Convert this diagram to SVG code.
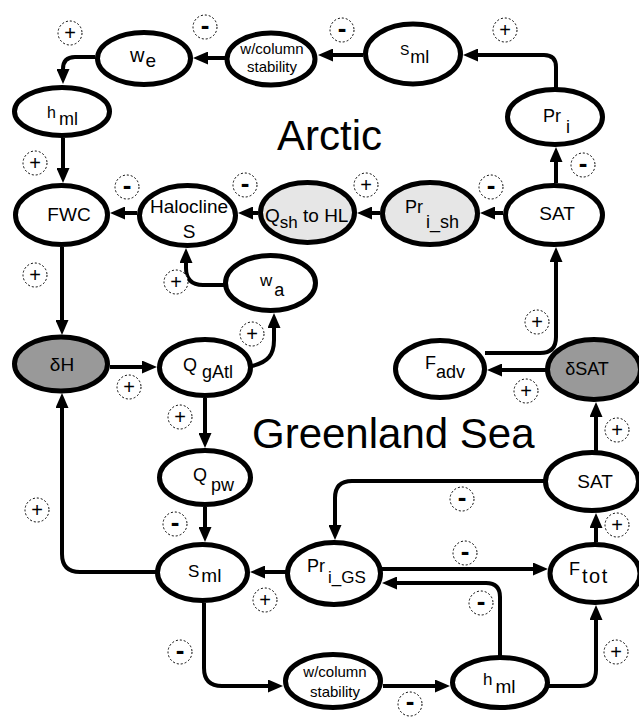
<svg xmlns="http://www.w3.org/2000/svg" width="639" height="717" viewBox="0 0 639 717">
<style>
.node ellipse{fill:#fff;stroke:#000;stroke-width:5}
.lg ellipse{fill:#e6e6e6}
.dg ellipse{fill:#999}
text{font-family:"Liberation Sans",Arial,sans-serif;fill:#000}
.t{font-size:19px}
.s{font-size:15px}
.title{font-size:42px}
#connectors path{fill:none;stroke:#000;stroke-width:4;marker-end:url(#ah)}
.sign circle{fill:#fff;stroke:#000;stroke-width:1;stroke-dasharray:2 2}
.plus{font-size:20px;text-anchor:middle}
.minus{font-size:26px;font-weight:bold;text-anchor:middle}
</style>
<defs>
<marker id="ah" markerUnits="userSpaceOnUse" markerWidth="15" markerHeight="13" refX="5" refY="6.5" orient="auto"><path d="M0,0 L15,6.5 L0,13 z" fill="#000"/></marker>
</defs>
<rect width="639" height="717" fill="#fff"/>
<text class="title" x="277" y="150">Arctic</text>
<text class="title" x="252" y="448">Greenland Sea</text>

<g id="connectors">
<path d="M225,58 L203,58"/>
<path d="M363,55 L328,55"/>
<path d="M556,89 L556,67 Q556,55 544,55 L473,55"/>
<path d="M95,57 L75,57 Q63,57 63,69 L63,74"/>
<path d="M556,183 L556,157"/>
<path d="M63,138 L63,173"/>
<path d="M137,213 L120,213"/>
<path d="M258,213 L248,213"/>
<path d="M380,213 L367,213"/>
<path d="M503,213 L490,213"/>
<path d="M225,285 L203,285 Q186,285 186,268 L186,258"/>
<path d="M62,247 L62,325"/>
<path d="M110,367 L147,367"/>
<path d="M252,366 C268,362 274,355 274,340 L274,323"/>
<path d="M205,398 L205,438"/>
<path d="M205,507 L205,532"/>
<path d="M157,572 L80,572 Q62,572 62,554 L62,403"/>
<path d="M547,370 L497,370"/>
<path d="M485,353 L540,353 Q556,353 556,337 L556,257"/>
<path d="M596,451 L596,412"/>
<path d="M596,542 L596,523"/>
<path d="M544,481 L352,481 Q335,481 335,498 L335,530"/>
<path d="M286,572 L260,572"/>
<path d="M382,569 L538,569"/>
<path d="M500,656 L500,597 Q500,583 486,583 L392,583"/>
<path d="M204,603 L204,668 Q204,686 222,686 L273,686"/>
<path d="M383,686 L440,686"/>
<path d="M549,686 L580,686 Q596,686 596,670 L596,615"/>
</g>

<g id="n_we" class="node"><ellipse cx="144" cy="58.5" rx="46.5" ry="26"/><text x="130" y="62" font-size="20">w<tspan font-size="19" dx="1" dy="5">e</tspan></text></g>
<g id="n_wcol_top" class="node"><ellipse cx="271" cy="59" rx="44" ry="26"/><text class="s" x="272" y="54" text-anchor="middle">w/column</text><text class="s" x="272" y="72" text-anchor="middle">stability</text></g>
<g id="n_sml_top" class="node"><ellipse cx="413" cy="54" rx="47.5" ry="30"/><text x="400" y="55" font-size="14">S<tspan font-size="18" dx="1" dy="8">ml</tspan></text></g>
<g id="n_pri" class="node"><ellipse cx="555" cy="117" rx="47.5" ry="27.5"/><text x="543" y="122" font-size="18">Pr<tspan dx="5" dy="11">i</tspan></text></g>
<g id="n_hml_top" class="node"><ellipse cx="62" cy="111.5" rx="47.5" ry="24"/><text x="47" y="118" font-size="16">h<tspan font-size="18" dx="3" dy="7">ml</tspan></text></g>
<g id="n_fwc" class="node"><ellipse cx="61.5" cy="215" rx="46" ry="29.5"/><text class="t" x="69" y="221" text-anchor="middle">FWC</text></g>
<g id="n_halocline" class="node"><ellipse cx="187.5" cy="215.5" rx="48" ry="30"/><text class="t" x="189" y="213" text-anchor="middle">Halocline</text><text class="t" x="189" y="238" text-anchor="middle">S</text></g>
<g id="n_qsh" class="node lg"><ellipse cx="307.5" cy="212.5" rx="47" ry="30"/><text class="t" x="265" y="222">Q<tspan font-size="17" dy="6">sh</tspan><tspan dy="-6"> to HL</tspan></text></g>
<g id="n_prish" class="node lg"><ellipse cx="430" cy="213.5" rx="47.5" ry="31"/><text x="405" y="213" font-size="18">Pr<tspan dx="3" dy="15">i_sh</tspan></text></g>
<g id="n_sat_top" class="node"><ellipse cx="554" cy="215" rx="48.5" ry="29.5"/><text class="t" x="557" y="220" text-anchor="middle">SAT</text></g>
<g id="n_wa" class="node"><ellipse cx="270.5" cy="283" rx="45" ry="27.5"/><text x="260" y="286" font-size="17">w<tspan font-size="18" dx="2" dy="10">a</tspan></text></g>
<g id="n_dh" class="node dg"><ellipse cx="61" cy="364" rx="46.5" ry="27"/><text class="t" x="62" y="371" text-anchor="middle">δH</text></g>
<g id="n_qgatl" class="node"><ellipse cx="205" cy="367.5" rx="45.5" ry="28"/><text x="183" y="371" font-size="18">Q<tspan dx="5" dy="7">gAtl</tspan></text></g>
<g id="n_fadv" class="node"><ellipse cx="440" cy="369" rx="44.5" ry="28.5"/><text x="425" y="369" font-size="18">F<tspan dx="0" dy="9">adv</tspan></text></g>
<g id="n_dsat" class="node dg"><ellipse cx="594" cy="369.5" rx="46.5" ry="30"/><text x="587" y="375" font-size="18" text-anchor="middle">δSAT</text></g>
<g id="n_qpw" class="node"><ellipse cx="205" cy="477.5" rx="45.5" ry="27"/><text x="193" y="481" font-size="18">Q<tspan dx="4" dy="10">pw</tspan></text></g>
<g id="n_sat_bot" class="node"><ellipse cx="592" cy="481.5" rx="46.5" ry="29"/><text class="t" x="595" y="488" text-anchor="middle">SAT</text></g>
<g id="n_sml_bot" class="node"><ellipse cx="202.5" cy="572.5" rx="45" ry="28"/><text x="188" y="577" font-size="17">S<tspan font-size="19" dx="2" dy="5">ml</tspan></text></g>
<g id="n_prigs" class="node"><ellipse cx="334" cy="573.5" rx="46.5" ry="31"/><text x="307" y="572" font-size="18">Pr<tspan font-size="17" dx="3" dy="11">i_GS</tspan></text></g>
<g id="n_ftot" class="node"><ellipse cx="595" cy="573.5" rx="45" ry="29"/><text x="569" y="575" font-size="18">F<tspan font-size="20" dx="2" dy="8" letter-spacing="1.5">tot</tspan></text></g>
<g id="n_wcol_bot" class="node"><ellipse cx="333" cy="681" rx="47.5" ry="26.5"/><text class="s" x="335" y="677" text-anchor="middle">w/column</text><text class="s" x="335" y="697" text-anchor="middle">stability</text></g>
<g id="n_hml_bot" class="node"><ellipse cx="500" cy="682.5" rx="47.5" ry="25"/><text x="483" y="685" font-size="17">h<tspan font-size="19" dx="3" dy="8">ml</tspan></text></g>

<g id="signs" class="sign">
<circle cx="70" cy="33" r="12"/><text class="plus" x="70" y="40">+</text>
<circle cx="205" cy="27" r="12"/><text class="minus" x="205" y="34">-</text>
<circle cx="342" cy="30" r="12"/><text class="minus" x="342" y="37">-</text>
<circle cx="505" cy="30" r="12"/><text class="plus" x="505" y="37">+</text>
<circle cx="35" cy="163" r="12"/><text class="plus" x="35" y="170">+</text>
<circle cx="583" cy="165" r="12"/><text class="minus" x="583" y="172">-</text>
<circle cx="127" cy="187" r="12"/><text class="minus" x="127" y="194">-</text>
<circle cx="245" cy="185" r="12"/><text class="minus" x="245" y="192">-</text>
<circle cx="366" cy="185" r="12"/><text class="plus" x="366" y="192">+</text>
<circle cx="491" cy="187" r="12"/><text class="minus" x="491" y="194">-</text>
<circle cx="35" cy="275" r="12"/><text class="plus" x="35" y="282">+</text>
<circle cx="176" cy="282" r="12"/><text class="plus" x="176" y="289">+</text>
<circle cx="252" cy="334" r="12"/><text class="plus" x="252" y="341">+</text>
<circle cx="537" cy="322" r="12"/><text class="plus" x="537" y="329">+</text>
<circle cx="129" cy="387" r="12"/><text class="plus" x="129" y="394">+</text>
<circle cx="526" cy="391" r="12"/><text class="plus" x="526" y="398">+</text>
<circle cx="180" cy="417" r="12"/><text class="plus" x="180" y="424">+</text>
<circle cx="617" cy="430" r="12"/><text class="plus" x="617" y="437">+</text>
<circle cx="462" cy="499" r="12"/><text class="minus" x="462" y="506">-</text>
<circle cx="37" cy="510" r="12"/><text class="plus" x="37" y="517">+</text>
<circle cx="175" cy="524" r="12"/><text class="minus" x="175" y="531">-</text>
<circle cx="617" cy="525" r="12"/><text class="plus" x="617" y="532">+</text>
<circle cx="465" cy="553" r="12"/><text class="minus" x="465" y="560">-</text>
<circle cx="265" cy="600" r="12"/><text class="plus" x="265" y="607">+</text>
<circle cx="481" cy="603" r="12"/><text class="minus" x="481" y="610">-</text>
<circle cx="180" cy="652" r="12"/><text class="minus" x="180" y="659">-</text>
<circle cx="616" cy="652" r="12"/><text class="plus" x="616" y="659">+</text>
<circle cx="410" cy="704" r="12"/><text class="minus" x="410" y="710">-</text>
</g>
</svg>
